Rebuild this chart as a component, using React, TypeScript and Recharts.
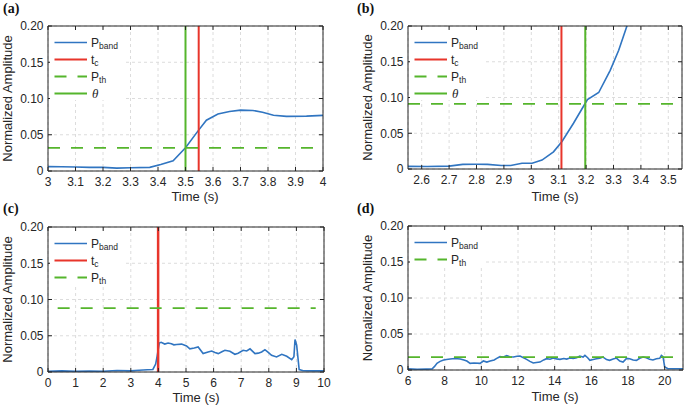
import React from 'react';
import { LineChart, Line, XAxis, YAxis, CartesianGrid, ReferenceLine } from 'recharts';

// ---------- shared ----------
const yTicks = [0, 0.05, 0.1, 0.15, 0.2];
const yTickLabels = ['0', '0.05', '0.10', '0.15', '0.20'];

// ---------- panel (a) ----------
const xTicksA = [3, 3.1, 3.2, 3.3, 3.4, 3.5, 3.6, 3.7, 3.8, 3.9, 4];
const timeA = [3.0, 3.05, 3.1, 3.15, 3.2, 3.25, 3.3, 3.37, 3.41, 3.455, 3.5, 3.545, 3.576, 3.618, 3.66, 3.7, 3.745, 3.78, 3.82, 3.867, 3.94, 4.0];
const bandA = [0.006, 0.0058, 0.0055, 0.005, 0.005, 0.004, 0.0045, 0.005, 0.009, 0.0142, 0.032, 0.055, 0.07, 0.0785, 0.082, 0.084, 0.0835, 0.081, 0.077, 0.0753, 0.0757, 0.0767];
const pthA = 0.032;
const tcA = 3.548;
const thetaA = 3.5;

// ---------- panel (b) ----------
const xTicksB = [2.6, 2.7, 2.8, 2.9, 3, 3.1, 3.2, 3.3, 3.4, 3.5];
const timeB = [2.55, 2.62, 2.7, 2.75, 2.8, 2.84, 2.89, 2.925, 2.966, 3.003, 3.039, 3.081, 3.112, 3.154, 3.197, 3.205, 3.246, 3.288, 3.319, 3.349, 3.37];
const bandB = [0.0037, 0.0035, 0.004, 0.0065, 0.0066, 0.0065, 0.005, 0.005, 0.008, 0.008, 0.0125, 0.024, 0.0385, 0.064, 0.092, 0.097, 0.107, 0.138, 0.166, 0.2, 0.222];
const pthB = 0.091;
const tcB = 3.11;
const thetaB = 3.197;

// ---------- panel (c) ----------
const xTicksC = [0, 1, 2, 3, 4, 5, 6, 7, 8, 9, 10];
const timeC = [
  0, 0.5, 1.0, 1.5, 2.0, 2.5, 3.0, 3.3, 3.6, 3.8,
  3.9, 3.95, 4.03, 4.1, 4.23, 4.35, 4.47, 4.56, 4.66, 4.84,
  5.02, 5.14, 5.3, 5.44, 5.62, 5.8, 5.93, 6.05, 6.17, 6.3,
  6.41, 6.59, 6.77, 6.89, 7.07, 7.2, 7.32, 7.5, 7.62, 7.74,
  7.86, 7.98, 8.1, 8.28, 8.47, 8.65, 8.83, 8.91, 8.95, 9.01,
  9.1, 9.25, 9.6, 10,
];
const bandC = [
  0.001, 0.0015, 0.001, 0.0012, 0.001, 0.002, 0.0015, 0.0025, 0.003, 0.0035,
  0.011, 0.021, 0.04, 0.041, 0.0385, 0.04, 0.039, 0.0375, 0.038, 0.0385,
  0.036, 0.032, 0.033, 0.0345, 0.0254, 0.0277, 0.029, 0.027, 0.0254, 0.028,
  0.03, 0.0285, 0.0244, 0.026, 0.03, 0.029, 0.032, 0.0254, 0.026, 0.0277,
  0.0308, 0.027, 0.023, 0.0207, 0.0244, 0.0217, 0.017, 0.021, 0.0447, 0.037,
  0.0033, 0.0018, 0.0015, 0.0015,
];
const pthC = 0.088;
const pthRangeC = [0.35, 9.7];
const tcC = 3.99;

// ---------- panel (d) ----------
const xTicksD = [6, 8, 10, 12, 14, 16, 18, 20];
const timeD = [
  6, 6.5, 7.0, 7.31, 7.45, 7.58, 7.75, 7.94, 8.1, 8.3,
  8.55, 8.85, 9.05, 9.21, 9.39, 9.6, 9.93, 10.11, 10.3, 10.48,
  10.7, 10.84, 11.02, 11.2, 11.39, 11.55, 11.75, 11.95, 12.11, 12.3,
  12.47, 12.65, 12.83, 13.0, 13.2, 13.4, 13.56, 13.75, 13.92, 14.1,
  14.29, 14.5, 14.65, 14.83, 15.01, 15.2, 15.37, 15.55, 15.65, 15.8,
  15.92, 16.1, 16.28, 16.46, 16.64, 16.83, 17.0, 17.19, 17.37, 17.55,
  17.73, 17.92, 18.09, 18.28, 18.46, 18.64, 18.82, 19.0, 19.18, 19.36,
  19.55, 19.73, 19.82, 19.91, 20.0, 20.18, 21,
];
const bandD = [
  0.0015, 0.001, 0.0012, 0.0014, 0.005, 0.0093, 0.012, 0.0139, 0.0145, 0.0152,
  0.016, 0.0152, 0.014, 0.0125, 0.0093, 0.0098, 0.0092, 0.0125, 0.011, 0.0125,
  0.0139, 0.0162, 0.0185, 0.018, 0.0199, 0.0185, 0.018, 0.019, 0.0194, 0.017,
  0.0148, 0.012, 0.0097, 0.0105, 0.011, 0.014, 0.0157, 0.015, 0.0166, 0.0155,
  0.0148, 0.016, 0.0152, 0.0166, 0.0162, 0.017, 0.0194, 0.018, 0.0203, 0.017,
  0.0134, 0.0145, 0.0157, 0.0162, 0.018, 0.0145, 0.0134, 0.0152, 0.0166, 0.0125,
  0.0111, 0.0162, 0.0157, 0.0139, 0.0134, 0.0162, 0.018, 0.0171, 0.0148, 0.0139,
  0.0157, 0.0162, 0.0203, 0.0185, 0.0042, 0.0018, 0.0018,
];
const pthD = 0.018;

// ---------- style ----------
const BLUE = '#3075c1';
const RED = '#e8352b';
const GREEN = '#55b52c';
const AXIS = '#262626';
const GRID = '#dcdcdc';
const SANS = '"Liberation Sans", Arial, Helvetica, sans-serif';
const SERIF = '"Liberation Serif", "Times New Roman", serif';

const X_AXIS_H = 30;
const Y_AXIS_W = 40;

const zip = (t: number[], v: number[]) => t.map((x, i) => ({ t: x, v: v[i] }));
const yFmt = (v: number) => {
  const i = yTicks.findIndex((y) => Math.abs(y - v) < 1e-9);
  return i >= 0 ? yTickLabels[i] : String(v);
};

type Box = { left: number; top: number; right: number; bottom: number };

type PanelProps = {
  left: number;
  top: number;
  w: number;
  h: number;
  plot: Box; // absolute page coordinates of the plot area
  xDomain: [number, number];
  xTicks: number[];
  data: { t: number; v: number }[];
  pth: number;
  pthRange?: number[];
  tc?: number;
  tcWidth?: number;
  theta?: number;
};

function Panel(p: PanelProps) {
  const tickStyle = { fill: AXIS, fontSize: 12, fontFamily: SANS };
  const margin = {
    top: p.plot.top - p.top - 1,
    left: p.plot.left - p.left - Y_AXIS_W,
    right: p.left + p.w - p.plot.right - 1,
    bottom: p.top + p.h - p.plot.bottom - X_AXIS_H,
  };
  return (
    <div style={{ position: 'absolute', left: p.left, top: p.top }}>
      <LineChart width={p.w} height={p.h} data={p.data} margin={margin}>
        <CartesianGrid stroke={GRID} strokeDasharray="3 3" />
        <XAxis
          dataKey="t"
          type="number"
          domain={p.xDomain}
          ticks={p.xTicks}
          allowDataOverflow
          interval={0}
          height={X_AXIS_H}
          tickSize={-4}
          tickMargin={10}
          stroke={AXIS}
          tick={tickStyle}
          tickFormatter={(v: number) => String(v)}
        />
        <XAxis
          xAxisId="top"
          dataKey="t"
          orientation="top"
          type="number"
          domain={p.xDomain}
          ticks={p.xTicks}
          allowDataOverflow
          interval={0}
          height={1}
          tickSize={-4}
          stroke={AXIS}
          tickFormatter={() => ''}
        />
        <YAxis
          dataKey="v"
          type="number"
          domain={[0, 0.2]}
          ticks={yTicks}
          allowDataOverflow
          interval={0}
          width={Y_AXIS_W}
          tickSize={-4}
          tickMargin={8.5}
          stroke={AXIS}
          tick={tickStyle}
          tickFormatter={yFmt}
        />
        <YAxis
          yAxisId="right"
          dataKey="v"
          orientation="right"
          type="number"
          domain={[0, 0.2]}
          ticks={yTicks}
          allowDataOverflow
          interval={0}
          width={1}
          tickSize={-4}
          stroke={AXIS}
          tickFormatter={() => ''}
        />
        <Line
          dataKey="v"
          type="linear"
          stroke={BLUE}
          strokeWidth={1.6}
          dot={false}
          activeDot={false}
          isAnimationActive={false}
        />
        {p.tc !== undefined && (
          <ReferenceLine x={p.tc} stroke={RED} strokeWidth={p.tcWidth ?? 2} />
        )}
        {p.pthRange ? (
          <ReferenceLine
            segment={[
              { x: p.pthRange[0], y: p.pth },
              { x: p.pthRange[1], y: p.pth },
            ]}
            stroke={GREEN}
            strokeWidth={1.8}
            strokeDasharray="12 11"
          />
        ) : (
          <ReferenceLine y={p.pth} stroke={GREEN} strokeWidth={1.8} strokeDasharray="12 11" />
        )}
        {p.theta !== undefined && (
          <ReferenceLine x={p.theta} stroke={GREEN} strokeWidth={2} />
        )}
      </LineChart>
    </div>
  );
}

type LegendKind = 'band' | 'tc' | 'pth' | 'theta';

function LegendBox({ pl, pt, items }: { pl: number; pt: number; items: LegendKind[] }) {
  const rowH = 17;
  return (
    <g>
      <rect x={pl + 2} y={pt + 6} width={73} height={items.length * rowH} fill="#ffffff" />
      {items.map((it, i) => {
        const cy = pt + 16.5 + i * rowH;
        const x1 = pl + 6.5;
        const x2 = pl + 39;
        const tx = pl + 43;
        let stroke = BLUE;
        let dash: string | undefined;
        let sw = 1.6;
        if (it === 'tc') { stroke = RED; sw = 2; }
        if (it === 'pth') { stroke = GREEN; dash = '12 11'; sw = 1.8; }
        if (it === 'theta') { stroke = GREEN; sw = 2; }
        return (
          <g key={it}>
            <line x1={x1} y1={cy} x2={x2} y2={cy} stroke={stroke} strokeWidth={sw} strokeDasharray={dash} />
            {it === 'band' && (
              <text x={tx} y={cy + 4.3} fontSize={12} fontFamily={SANS} fill={AXIS}>
                P<tspan fontSize={8.5} dy={2.5}>band</tspan>
              </text>
            )}
            {it === 'tc' && (
              <text x={tx} y={cy + 4.3} fontSize={12} fontFamily={SANS} fill={AXIS}>
                t<tspan fontSize={8.5} dy={2.5}>c</tspan>
              </text>
            )}
            {it === 'pth' && (
              <text x={tx} y={cy + 4.3} fontSize={12} fontFamily={SANS} fill={AXIS}>
                P<tspan fontSize={8.5} dy={2.5}>th</tspan>
              </text>
            )}
            {it === 'theta' && (
              <text x={tx + 1} y={cy + 4.3} fontSize={13} fontFamily={SERIF} fontStyle="italic" fill={AXIS}>
                θ
              </text>
            )}
          </g>
        );
      })}
    </g>
  );
}

export default function App() {
  // plot areas (absolute page coordinates)
  const A: Box = { left: 48, top: 26, right: 323, bottom: 171 };
  const B: Box = { left: 408, top: 26, right: 682, bottom: 169 };
  const C: Box = { left: 48, top: 227, right: 324, bottom: 372 };
  const D: Box = { left: 408, top: 226, right: 683, bottom: 370 };

  const titleStyle = { fontSize: 13, fontFamily: SANS, fill: AXIS } as const;
  const letterStyle = { fontSize: 14, fontFamily: SERIF, fontWeight: 700, fill: '#111' } as const;

  return (
    <div style={{ position: 'absolute', left: 0, top: 0, width: 685, height: 406, background: '#ffffff', overflow: 'hidden' }}>
      <Panel
        left={0} top={0} w={340} h={200} plot={A}
        xDomain={[3, 4]} xTicks={xTicksA} data={zip(timeA, bandA)}
        pth={pthA} tc={tcA} theta={thetaA}
      />
      <Panel
        left={340} top={0} w={345} h={200} plot={B}
        xDomain={[2.55, 3.55]} xTicks={xTicksB} data={zip(timeB, bandB)}
        pth={pthB} tc={tcB} theta={thetaB}
      />
      <Panel
        left={0} top={200} w={340} h={206} plot={C}
        xDomain={[0, 10]} xTicks={xTicksC} data={zip(timeC, bandC)}
        pth={pthC} pthRange={pthRangeC} tc={tcC} tcWidth={2.5}
      />
      <Panel
        left={340} top={200} w={345} h={206} plot={D}
        xDomain={[6, 21]} xTicks={xTicksD} data={zip(timeD, bandD)}
        pth={pthD}
      />
      <svg width={685} height={406} style={{ position: 'absolute', left: 0, top: 0, pointerEvents: 'none' }}>
        <LegendBox pl={A.left} pt={A.top} items={['band', 'tc', 'pth', 'theta']} />
        <LegendBox pl={B.left} pt={B.top} items={['band', 'tc', 'pth', 'theta']} />
        <LegendBox pl={C.left} pt={C.top} items={['band', 'tc', 'pth']} />
        <LegendBox pl={D.left} pt={D.top} items={['band', 'pth']} />

        <text x={3} y={13} style={letterStyle}>(a)</text>
        <text x={357} y={13} style={letterStyle}>(b)</text>
        <text x={3} y={213} style={letterStyle}>(c)</text>
        <text x={357} y={213} style={letterStyle}>(d)</text>

        <text x={195} y={201} textAnchor="middle" style={titleStyle}>Time (s)</text>
        <text x={555} y={201} textAnchor="middle" style={titleStyle}>Time (s)</text>
        <text x={196} y={402} textAnchor="middle" style={titleStyle}>Time (s)</text>
        <text x={555} y={401} textAnchor="middle" style={titleStyle}>Time (s)</text>

        <text transform={`translate(11.5 ${(A.top + A.bottom) / 2}) rotate(-90)`} textAnchor="middle" style={titleStyle}>Normalized Amplitude</text>
        <text transform={`translate(371.5 ${(B.top + B.bottom) / 2}) rotate(-90)`} textAnchor="middle" style={titleStyle}>Normalized Amplitude</text>
        <text transform={`translate(11.5 ${(C.top + C.bottom) / 2}) rotate(-90)`} textAnchor="middle" style={titleStyle}>Normalized Amplitude</text>
        <text transform={`translate(371.5 ${(D.top + D.bottom) / 2}) rotate(-90)`} textAnchor="middle" style={titleStyle}>Normalized Amplitude</text>
      </svg>
    </div>
  );
}
